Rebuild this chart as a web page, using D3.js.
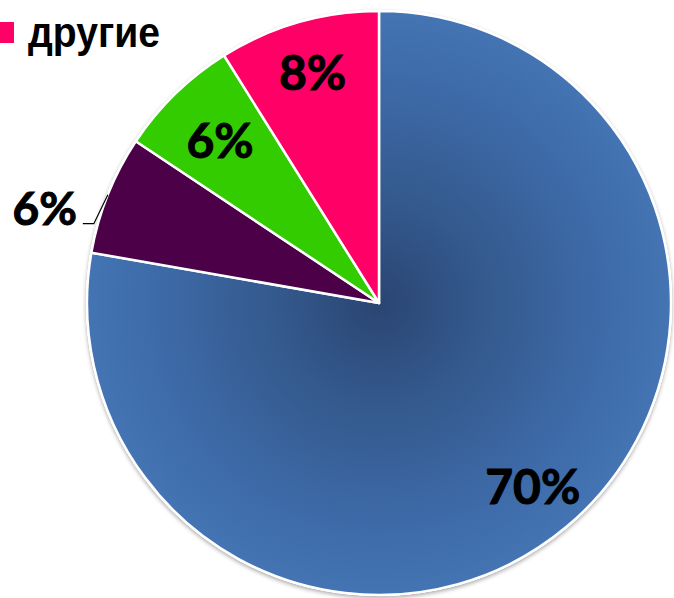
<!DOCTYPE html>
<html><head><meta charset="utf-8">
<script src="https://cdn.jsdelivr.net/npm/d3@7"></script>
<style>html,body{margin:0;padding:0;background:#fff;overflow:hidden}</style>
</head><body>
<svg id="c" width="674" height="598"></svg>
<script>
const categories = ["основной", "прочие-1", "прочие-2", "другие"];
const values = [77.75, 6.58, 6.76, 8.9];
const labels = ["70%", "6%", "6%", "8%"];
const colors = ["#3f6eac", "#4b0048", "#33cc00", "#ff0066"];
const legendItems = ["другие"];

const svg = d3.select("#c");
const cx = 379, cy = 303, R = 292;
const defs = svg.append("defs");
const rg = defs.append("radialGradient").attr("id","blueGrad")
  .attr("gradientUnits","userSpaceOnUse").attr("cx",0).attr("cy",0).attr("r",R);
rg.append("stop").attr("offset","0%").attr("stop-color","#2a4572");
rg.append("stop").attr("offset","35%").attr("stop-color","#34598d");
rg.append("stop").attr("offset","75%").attr("stop-color","#3d6aa7");
rg.append("stop").attr("offset","100%").attr("stop-color","#4474b3");
const f = defs.append("filter").attr("id","sh").attr("x","-10%").attr("y","-10%").attr("width","120%").attr("height","120%");
f.append("feDropShadow").attr("dx",0).attr("dy",2).attr("stdDeviation",2).attr("flood-color","#000").attr("flood-opacity",0.35);

const g = svg.append("g").attr("transform",`translate(${cx},${cy})`);
const pie = d3.pie().sort(null).value(d=>d)(values);
const arc = d3.arc().innerRadius(0).outerRadius(R);

g.append("circle").attr("r",R+1).attr("fill","#fff").attr("filter","url(#sh)");
g.selectAll("path.s").data(pie).join("path").attr("class","s")
  .attr("d",arc)
  .attr("fill",(d,i)=> i===0 ? "url(#blueGrad)" : colors[i])
  .attr("stroke","#fff").attr("stroke-width",2.5).attr("stroke-linejoin","round");

// labels
const labelR = [239, R, 228, 241];
const font = "Lato, 'Open Sans', sans-serif";
pie.forEach((d,i)=>{
  const la = d3.arc().innerRadius(labelR[i]).outerRadius(labelR[i]);
  const c = la.centroid(d);
  if (i === 1) {
    const hx = c[0] - 14, hy = c[1] + 29;
    g.append("path").attr("d",`M${c[0]},${c[1]}L${hx},${hy}L${hx-11},${hy}`)
      .attr("fill","none").attr("stroke","#000").attr("stroke-width",1.2);
    g.append("text").attr("x",hx-17).attr("y",hy+1).attr("text-anchor","end")
      .attr("font-family",font).attr("font-weight",700).attr("font-size",46)
      .attr("fill","#000").attr("stroke","#000").attr("stroke-width",1)
      .text(labels[i]);
    return;
  }
  g.append("text").attr("x",c[0]).attr("y",c[1]).attr("text-anchor","middle")
    .attr("dominant-baseline","central")
    .attr("font-family",font).attr("font-weight",700).attr("font-size",48)
    .attr("fill","#000").attr("stroke","#000").attr("stroke-width",1)
    .text(labels[i]);
});

// legend (partially clipped at left)
const lg = svg.append("g");
legendItems.forEach((t,i)=>{
  lg.append("rect").attr("x",-6).attr("y",22).attr("width",20).attr("height",21).attr("fill",colors[3]);
  lg.append("text").attr("x",28).attr("y",47)
    .attr("font-family","'Liberation Sans Narrow', 'Arial Narrow', 'Liberation Sans', sans-serif")
    .attr("font-weight",700).attr("font-size",42).attr("textLength",132).attr("lengthAdjust","spacingAndGlyphs")
    .attr("fill","#000").text(t);
});
</script>
</body></html>
